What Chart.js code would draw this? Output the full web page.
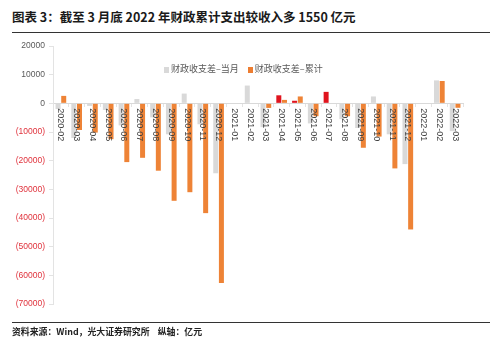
<!DOCTYPE html>
<html>
<head>
<meta charset="utf-8">
<script src="https://cdn.jsdelivr.net/npm/chart.js@4.4.1/dist/chart.umd.min.js"></script>
<style>
    body { margin: 0; background: #fff; }
    #wrap { position: relative; width: 500px; height: 346px; font-family: "Noto Sans CJK SC", "Liberation Sans", sans-serif; }
    #title { position: absolute; left: 12px; top: 7px; font-size: 12.5px; font-weight: bold; color: #1a1a1a; white-space: nowrap; }
    .rule { position: absolute; left: 12px; width: 478px; height: 0; border-top: 1.5px solid #333; }
    #source { position: absolute; left: 12px; top: 325px; font-size: 8.9px; font-weight: bold; color: #222; white-space: nowrap; }
    #legend { position: absolute; left: 164px; top: 62px; font-size: 9px; color: #595959; white-space: nowrap; }
    #legend span.box { display: inline-block; width: 5px; height: 6px; margin-right: 2px; vertical-align: -0.5px; }
    #legend span.item { margin-right: 9px; }
    canvas { position: absolute; left: 0; top: 0; }
</style>
</head>
<body>
<div id="wrap">
    <div id="title">图表 3：截至 3 月底 2022 年财政累计支出较收入多 1550 亿元</div>
    <div class="rule" style="top: 32px;"></div>
    <canvas id="fiscal-chart" width="500" height="346"></canvas>
    <div id="legend">
        <span class="item"><span class="box" style="background:#d9d9d9"></span>财政收支差–当月</span><span class="item"><span class="box" style="background:#ed7d31"></span>财政收支差–累计</span>
    </div>
    <div class="rule" style="top: 322px;"></div>
    <div id="source">资料来源：Wind，光大证券研究所&nbsp;&nbsp;&nbsp;&nbsp;纵轴：亿元</div>
</div>
<script>
// Mois
const months = [
    '2020-02', '2020-03', '2020-04', '2020-05', '2020-06', '2020-07',
    '2020-08', '2020-09', '2020-10', '2020-11', '2020-12',
    '2021-01', '2021-02', '2021-03', '2021-04', '2021-05', '2021-06',
    '2021-07', '2021-08', '2021-09', '2021-10', '2021-11', '2021-12',
    '2022-01', '2022-02', '2022-03'
];

// 财政收支差-当月 (亿元)
const monthlyGap = [
    -2000, -12100, -900, -2300, -7700, 1500,
    -4900, -10800, 3400, -7300, -24400,
    null, 6200, -8300, 2800, 900, -7000,
    4000, -5500, -8600, 2400, -10800, -21200,
    null, 8000, -9700
];

// 财政收支差-累计 (亿元)
const cumulativeGap = [
    2600, -9300, -10200, -12500, -20500, -19000,
    -23500, -34000, -31000, -38300, -62700,
    null, null, -1600, 1200, 2400, -4500,
    null, -4500, -15500, -11600, -22700, -44000,
    null, 7800, -1550
];

// Mois mis en évidence (当月 en rouge)
const highlightMonths = ['2021-04', '2021-05', '2021-07'];

// Axe Y
const yMin = -70000;
const yMax = 20000;
const yStep = 10000;

const grey = '#d9d9d9';
const orange = '#ee8336';
const red = '#e0141e';

// Labels des mois écrits verticalement sous la ligne zéro
const monthLabels = {
    id: 'monthLabels',
    afterDatasetsDraw: (chart) => {
        const ctx = chart.ctx;
        const xScale = chart.scales.x;
        const y0 = chart.scales.y.getPixelForValue(0);
        ctx.save();
        ctx.font = '9px "Liberation Sans", Arial, sans-serif';
        ctx.fillStyle = '#404040';
        ctx.textAlign = 'left';
        ctx.textBaseline = 'middle';
        months.forEach((m, i) => {
            ctx.save();
            ctx.translate(xScale.getPixelForValue(i), y0 + 5);
            ctx.rotate(Math.PI / 2);
            ctx.fillText(m, 0, 0);
            ctx.restore();
        });
        ctx.restore();
    }
};

const dataFiscal = {
    labels: months,
    datasets: [
        {
            label: '财政收支差–当月',
            data: monthlyGap,
            backgroundColor: months.map(m => highlightMonths.includes(m) ? red : grey),
            categoryPercentage: 0.72,
            barPercentage: 0.88
        },
        {
            label: '财政收支差–累计',
            data: cumulativeGap,
            backgroundColor: orange,
            categoryPercentage: 0.72,
            barPercentage: 0.88
        }
    ]
};

const optionsFiscal = {
    responsive: false,
    animation: false,
    layout: {
        padding: { left: 0, top: 46, right: 37, bottom: 42 }
    },
    scales: {
        x: {
            position: { y: 0 },
            offset: true,
            grid: {
                display: true,
                drawOnChartArea: false,
                tickLength: 3,
                color: '#e3e3e3',
                offset: true
            },
            border: { color: '#d9d9d9' },
            ticks: { display: false }
        },
        y: {
            min: yMin,
            max: yMax,
            afterFit: (scale) => { scale.width = 53; },
            grid: {
                drawOnChartArea: false,
                tickLength: 4,
                color: '#e3e3e3'
            },
            border: { color: '#e3e3e3' },
            ticks: {
                stepSize: yStep,
                padding: 4,
                font: { size: 8.5, family: '"Liberation Sans", Arial, sans-serif' },
                color: (ctx) => ctx.tick.value < 0 ? '#e0323c' : '#595959',
                callback: (value) => value < 0 ? '(' + Math.abs(value) + ')' : String(value)
            }
        }
    },
    plugins: {
        legend: { display: false },
        tooltip: { enabled: false }
    }
};

new Chart(document.querySelector('#fiscal-chart'), {
    type: 'bar',
    data: dataFiscal,
    options: optionsFiscal,
    plugins: [monthLabels]
});
</script>
</body>
</html>
